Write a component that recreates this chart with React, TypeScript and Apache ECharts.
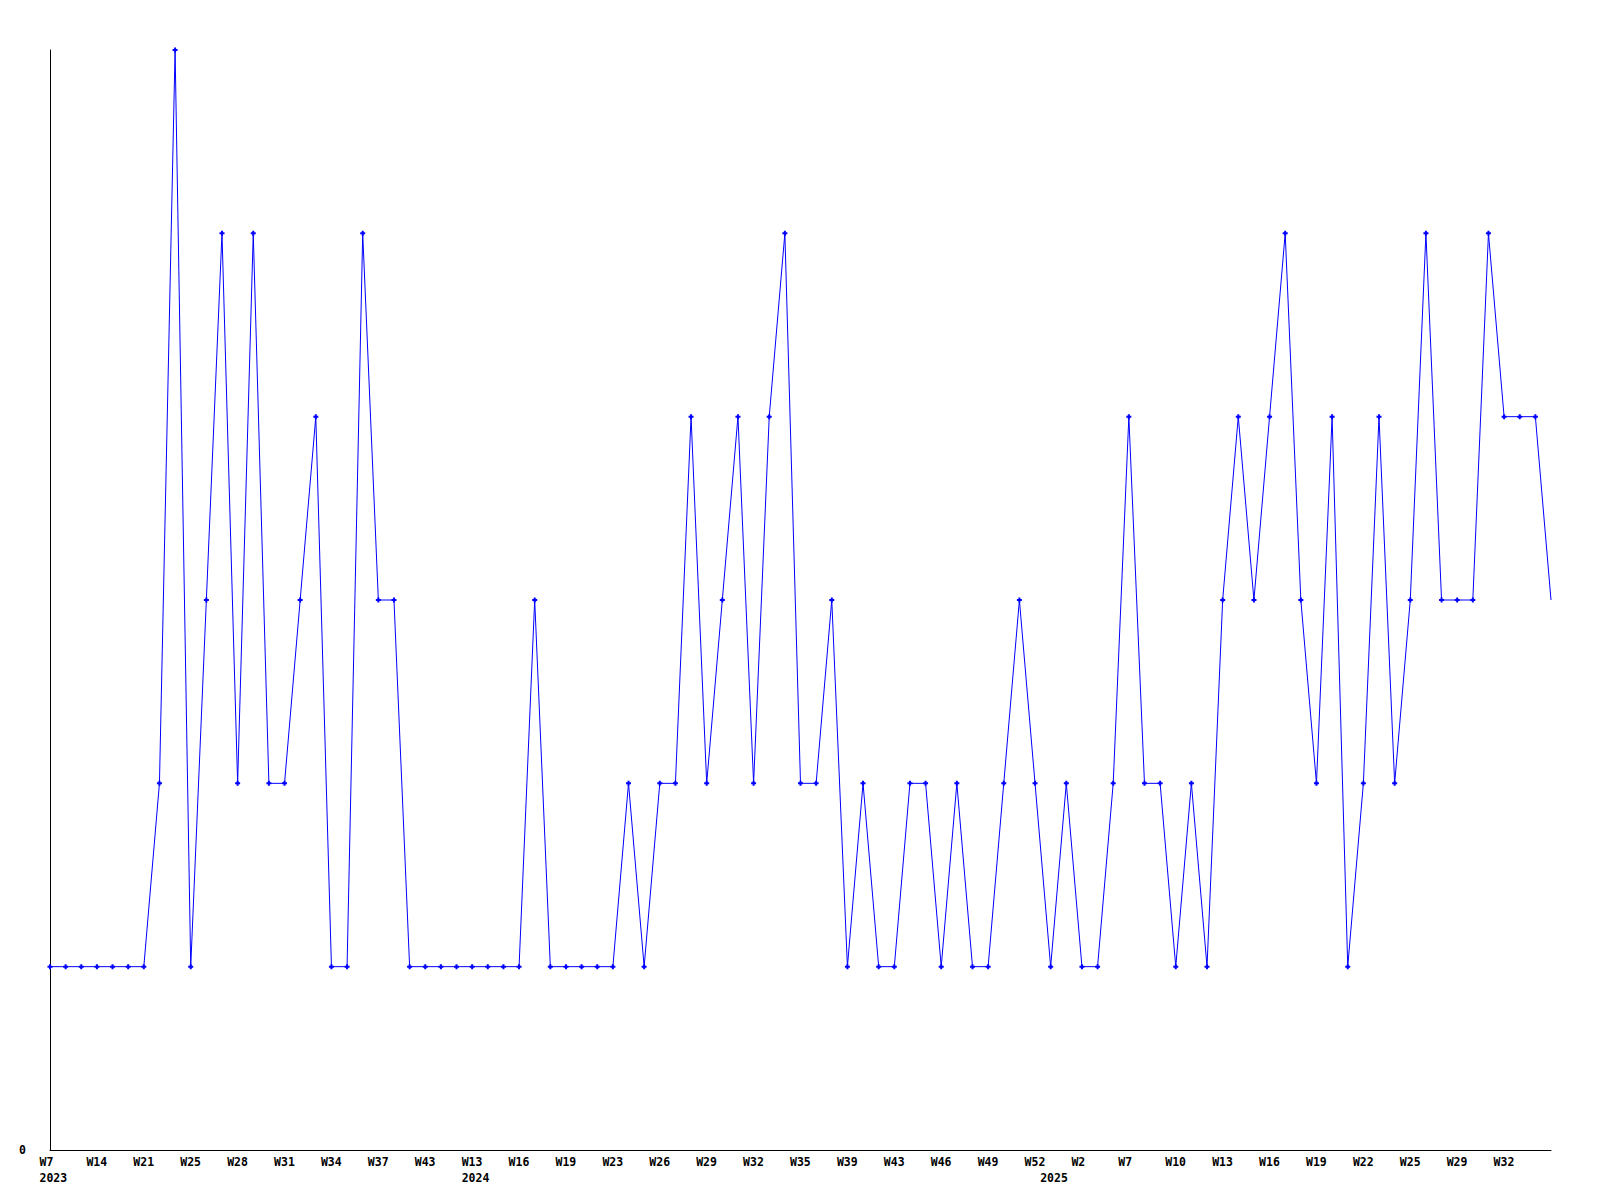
import React, { useEffect, useRef } from "react";
import * as echarts from "echarts";

const years: number[] = [
  2023, 2023, 2023, 2023, 2023, 2023, 2023, 2023, 2023, 2023,
  2023, 2023, 2023, 2023, 2023, 2023, 2023, 2023, 2023, 2023,
  2023, 2023, 2023, 2023, 2023, 2023, 2023,
  2024, 2024, 2024, 2024, 2024, 2024, 2024, 2024, 2024, 2024,
  2024, 2024, 2024, 2024, 2024, 2024, 2024, 2024, 2024, 2024,
  2024, 2024, 2024, 2024, 2024, 2024, 2024, 2024, 2024, 2024,
  2024, 2024, 2024, 2024, 2024, 2024, 2024,
  2025, 2025, 2025, 2025, 2025, 2025, 2025, 2025, 2025, 2025,
  2025, 2025, 2025, 2025, 2025, 2025, 2025, 2025, 2025, 2025,
  2025, 2025, 2025, 2025, 2025, 2025, 2025, 2025, 2025, 2025,
  2025, 2025, 2025,
];

const weeks: string[] = [
  "W7", "W9", "W11", "W14", "W16", "W18", "W21", "W22", "W23", "W25",
  "W26", "W27", "W28", "W29", "W30", "W31", "W32", "W33", "W34", "W35",
  "W36", "W37", "W39", "W41", "W43", "W45", "W48",
  "W13", "W14", "W15", "W16", "W17", "W18", "W19", "W20", "W22",
  "W23", "W24", "W25", "W26", "W27", "W28", "W29", "W30", "W31",
  "W32", "W33", "W34", "W35", "W36", "W38", "W39", "W40", "W42",
  "W43", "W44", "W45", "W46", "W47", "W48", "W49", "W50", "W51",
  "W52",
  "W1", "W1", "W2", "W4", "W6", "W7", "W8", "W9", "W10", "W11",
  "W12", "W13", "W14", "W15", "W16", "W17", "W18", "W19", "W20", "W21",
  "W22", "W23", "W24", "W25", "W26", "W27", "W29", "W30", "W31", "W32",
  "W33", "W34", "W35",
];

const values: number[] = [
  1, 1, 1, 1, 1, 1, 1, 2, 6, 1,
  3, 5, 2, 5, 2, 2, 3, 4, 1, 1,
  5, 3, 3, 1, 1, 1, 1, 1, 1, 1,
  1, 3, 1, 1, 1, 1, 1, 2, 1, 2,
  2, 4, 2, 3, 4, 2, 4, 5, 2, 2,
  3, 1, 2, 1, 1, 2, 2, 1, 2, 1,
  1, 2, 3, 2, 1, 2, 1, 1, 2, 4,
  2, 2, 1, 2, 1, 3, 4, 3, 4, 5,
  3, 2, 4, 1, 2, 4, 2, 3, 5, 3,
  3, 3, 5, 4, 4, 4, 3,
];

const categories = weeks.map((w, i) => `${years[i]}-${w}-${i}`);

export default function App() {
  const ref = useRef<HTMLDivElement>(null);
  useEffect(() => {
    if (!ref.current) return;
    const chart = echarts.init(ref.current, undefined, { renderer: "svg" });
    const font = "DejaVu Sans Mono";
    const plus = "path://M1.5,0H3.5V1.5H5V3.5H3.5V5H1.5V3.5H0V1.5H1.5Z";
    const last = values.length - 1;
    chart.setOption({
      animation: false,
      backgroundColor: "#ffffff",
      grid: { left: 50, right: 49, top: 50, bottom: 50, containLabel: false },
      xAxis: {
        type: "category",
        data: categories,
        boundaryGap: false,
        axisLine: { lineStyle: { color: "#000000", width: 1 } },
        axisTick: { show: false },
        splitLine: { show: false },
        axisLabel: {
          interval: 0,
          margin: 4,
          hideOverlap: false,
          formatter: (_v: string, i: number) => {
            const showWeek = i % 3 === 0 && i !== last;
            const showYear = i === 0 || years[i] !== years[i - 1];
            if (!showWeek && !showYear) return "";
            const top = showWeek ? `{w|${weeks[i]}}` : "{w|}";
            const bottom = showYear ? `{w|${years[i]}}` : "{w|}";
            return `${top}\n${bottom}`;
          },
          rich: {
            w: {
              width: 21,
              align: "left",
              fontFamily: font,
              fontWeight: "bold",
              fontSize: 11.5,
              lineHeight: 16,
              color: "#000000",
            },
          },
        },
      },
      yAxis: {
        type: "value",
        min: 0,
        max: 6,
        interval: 1,
        axisLine: { show: true, lineStyle: { color: "#000000", width: 1 } },
        axisTick: { show: false },
        splitLine: { show: false },
        axisLabel: {
          margin: 24,
          fontFamily: font,
          fontWeight: "bold",
          fontSize: 11.5,
          color: "#000000",
          formatter: (v: number) => (v === 0 ? "0" : ""),
        },
      },
      series: [
        {
          type: "line",
          data: values.map((v, i) => (i === last ? { value: v, symbol: "none" } : v)),
          symbol: plus,
          symbolSize: 5,
          showAllSymbol: true,
          lineStyle: { color: "#0000ff", width: 1 },
          itemStyle: { color: "#0000ff" },
          clip: false,
        },
      ],
    });
    return () => chart.dispose();
  }, []);
  return <div ref={ref} style={{ width: 1600, height: 1200, margin: -8 }} />;
}
